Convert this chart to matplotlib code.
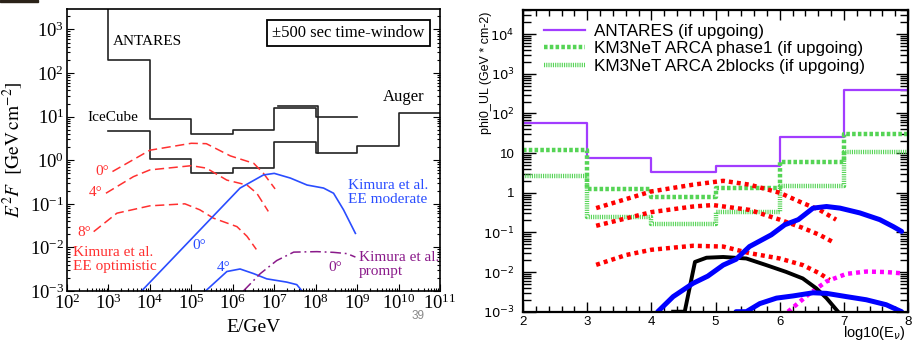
import matplotlib
matplotlib.use("Agg")
import matplotlib.pyplot as plt
import numpy as np
from matplotlib.ticker import LogLocator, NullFormatter, LogFormatterMathtext, MultipleLocator, FixedLocator
from matplotlib.patches import Rectangle

plt.rcParams['mathtext.fontset'] = 'stix'

# ---------------- left panel data (E/GeV, E^2 F) ----------------
ant_edges = [1e3, 1e4, 1e5, 1e6, 1e7, 1e8, 1e9]
ant_vals = [200, 9.0, 3.9, 5.0, 15.5, 10.0]
ant_top = 1e4

ice_edges = [1e3, 1e4, 1e5, 1e6, 1e7, 1e8, 1e9, 1e10, 1e11]
ice_vals = [4.7, 1.05, 0.5, 0.65, 2.6, 1.45, 2.1, 12.4]

aug_edges = [1.2e7, 1.12e8]
aug_vals = [17.5]
aug_drop = 1.45

opt0_e = [1.25e3, 1e4, 1e5, 2.3e5, 8.7e5, 3.2e6, 5.5e6, 1.05e7]
opt0_f = [0.55, 1.7, 2.45, 2.4, 1.26, 0.85, 0.5, 0.22]
opt4_e = [8.7e2, 4e3, 1e4, 1e5, 2.3e5, 7.2e5, 2.2e6, 3.8e6, 7.2e6]
opt4_f = [0.175, 0.42, 0.6, 0.75, 0.66, 0.35, 0.27, 0.175, 0.067]
opt8_e = [4.4e2, 1.6e3, 1e4, 7e4, 1.6e5, 3.4e5, 1.26e6, 2.2e6, 3.7e6]
opt8_f = [0.023, 0.061, 0.09, 0.1, 0.073, 0.047, 0.03, 0.018, 0.009]

mod0_e = [6.3e3, 1.5e6, 5.5e6, 1e7, 2.45e7, 6.2e7, 1.55e8, 2.7e8, 4.7e8, 9.1e8]
mod0_f = [1e-3, 0.23, 0.46, 0.5, 0.39, 0.27, 0.23, 0.175, 0.073, 0.021]
mod4_e = [2.2e5, 7.2e5, 1.5e6, 3.2e6, 6.6e6, 2e7, 3.5e7, 4.7e7]
mod4_f = [1e-3, 0.0028, 0.0032, 0.0025, 0.0019, 0.0016, 0.0014, 1e-3]

pr0_e = [1.8e6, 4.6e6, 1.15e7, 2.95e7, 1.07e8, 2.7e8, 5.75e8, 9.1e8]
pr0_f = [1e-3, 0.0025, 0.005, 0.0078, 0.008, 0.0077, 0.0072, 0.006]

# ---------------- right panel data (log10 E, phi0_UL) ----------------
bins = [2, 3, 4, 5, 6, 7, 8]
antares_ul = [56, 7.6, 3.3, 4.7, 26, 400]
arca_ph1_ul = [11.7, 1.24, 0.78, 1.3, 5.8, 31]
arca_2bl_ul = [2.7, 0.25, 0.16, 0.33, 1.5, 10.6]

red1_x = [3.14, 4.0, 4.65, 5.12, 5.53, 6.0, 6.36, 6.62, 6.88]
red1_y = [0.41, 1.08, 1.6, 2.0, 1.6, 1.0, 0.55, 0.37, 0.21]
red2_x = [3.14, 4.0, 4.65, 4.96, 5.53, 6.0, 6.36, 6.62, 6.86]
red2_y = [0.147, 0.325, 0.45, 0.49, 0.37, 0.21, 0.13, 0.087, 0.054]
red3_x = [3.14, 3.61, 4.0, 4.65, 5.12, 5.53, 6.0, 6.36, 6.62, 6.78]
red3_y = [0.0152, 0.027, 0.0365, 0.046, 0.044, 0.03, 0.022, 0.015, 0.0093, 0.0063]

mag_x = [6.13, 6.47, 6.73, 7.04, 7.35, 7.66, 7.9]
mag_y = [1e-3, 0.0029, 0.0058, 0.009, 0.0103, 0.01, 0.0093]

blk_x = [4.34, 4.52, 4.68, 4.86, 5.12, 5.48, 5.79, 6.1, 6.36, 6.57, 6.73, 6.91]
blk_y = [1e-3, 1e-3, 0.018, 0.023, 0.024, 0.022, 0.015, 0.0101, 0.0069, 0.0039, 0.0022, 1e-3]

blu1_x = [4.1, 4.34, 4.65, 4.88, 5.12, 5.32, 5.53, 5.87, 6.08, 6.29, 6.52, 6.73, 6.94, 7.25, 7.56, 7.77, 7.9]
blu1_y = [1e-3, 0.0024, 0.0052, 0.0079, 0.015, 0.021, 0.044, 0.087, 0.156, 0.21, 0.41, 0.45, 0.41, 0.31, 0.21, 0.14, 0.106]
blu2_x = [5.32, 5.48, 5.69, 5.95, 6.21, 6.52, 6.73, 7.04, 7.35, 7.66, 7.9]
blu2_y = [1e-3, 1e-3, 0.0016, 0.0022, 0.0025, 0.003, 0.0029, 0.0024, 0.002, 0.0015, 1e-3]

yticks_r = [1e-3, 1e-2, 1e-1, 1, 10, 1e2, 1e3, 1e4]
ytlabels_r = [r'$10^{-3}$', r'$10^{-2}$', r'$10^{-1}$', '1', '10', r'$10^{2}$', r'$10^{3}$', r'$10^{4}$']


def step_xy(edges, vals):
    xs = []
    ys = []
    for i, v in enumerate(vals):
        xs += [edges[i], edges[i + 1]]
        ys += [v, v]
    return xs, ys


fig = plt.figure(figsize=(9.13, 3.42), dpi=100)
serif = 'Liberation Serif'
sans = 'Liberation Sans'

# ================= left panel =================
ax = fig.add_axes([67 / 913, 1 - 291 / 342, 373 / 913, 282 / 342])
ax.set_xscale('log')
ax.set_yscale('log')
ax.set_xlim(1e2, 1e11)
ax.set_ylim(1e-3, 10 ** 3.47)

kw = dict(color='#222222', lw=1.2)
xs, ys = step_xy(ant_edges, ant_vals)
ax.plot([ant_edges[0]] + xs, [ant_top] + ys, **kw)
xs, ys = step_xy(ice_edges, ice_vals)
ax.plot(xs, ys, **kw)
xs, ys = step_xy(aug_edges, aug_vals)
ax.plot(xs + [aug_edges[-1]], ys + [aug_drop], **kw)

red = '#ff3030'
for e, f in [(opt0_e, opt0_f), (opt4_e, opt4_f), (opt8_e, opt8_f)]:
    ax.plot(e, f, color=red, lw=1.1, dashes=(6, 3))
blue = '#2a4dff'
ax.plot(mod0_e, mod0_f, color=blue, lw=1.2)
ax.plot(mod4_e, mod4_f, color=blue, lw=1.2)
ax.plot(pr0_e, pr0_f, color='#8a1a8a', lw=1.1, dashes=(7, 2.5, 1.2, 2.5))

ax.xaxis.set_major_locator(LogLocator(base=10, numticks=20))
ax.xaxis.set_minor_locator(LogLocator(base=10, subs=np.arange(2, 10), numticks=20))
ax.xaxis.set_major_formatter(LogFormatterMathtext())
ax.xaxis.set_minor_formatter(NullFormatter())
ax.yaxis.set_major_locator(LogLocator(base=10, numticks=20))
ax.yaxis.set_minor_locator(LogLocator(base=10, subs=np.arange(2, 10), numticks=20))
ax.yaxis.set_major_formatter(LogFormatterMathtext())
ax.yaxis.set_minor_formatter(NullFormatter())
ax.tick_params(which='both', direction='in', right=True, top=False, labelsize=13.5, width=0.8)
ax.tick_params(which='major', length=5, pad=2)
ax.tick_params(which='minor', length=2.5)
for lbl in ax.get_xticklabels() + ax.get_yticklabels():
    lbl.set_family(serif)
for s in ax.spines.values():
    s.set_linewidth(1.2)

ax.set_xlabel('E/GeV', fontsize=14, family=serif)
ax.xaxis.set_label_coords(0.5, -0.10)
ax.set_ylabel(r'$E^2F\ \ [\mathrm{GeV\,cm}^{-2}]$', fontsize=14)
ax.yaxis.set_label_coords(-0.112, 0.5)

tkw = dict(transform=ax.transAxes, family=serif, fontsize=11)
ax.text(0.123, 0.883, 'ANTARES', va='center', **tkw)
ax.text(0.054, 0.617, 'IceCube', va='center', **tkw)
ax.text(0.847, 0.688, 'Auger', va='center', fontsize=12, transform=ax.transAxes, family=serif)
ax.text(0.755, 0.915, '±500 sec time-window', ha='center', va='center', fontsize=12,
        transform=ax.transAxes, family=serif,
        bbox=dict(boxstyle='square,pad=0.3', fc='white', ec='black', lw=1.3))
ax.text(0.075, 0.422, '0°', color=red, va='center', **tkw)
ax.text(0.059, 0.348, '4°', color=red, va='center', **tkw)
ax.text(0.027, 0.209, '8°', color=red, va='center', **tkw)
ax.text(0.015, 0.112, 'Kimura et al.\nEE optimistic', color=red, va='center', linespacing=1.05, **tkw)
ax.text(0.335, 0.160, '0°', color=blue, va='center', **tkw)
ax.text(0.402, 0.082, '4°', color=blue, va='center', **tkw)
ax.text(0.753, 0.349, 'Kimura et al.\nEE moderate', color=blue, va='center', linespacing=1.05, **tkw)
ax.text(0.700, 0.082, '0°', color='#8a1a8a', va='center', **tkw)
ax.text(0.783, 0.094, 'Kimura et al.\nprompt', color='#8a1a8a', va='center', linespacing=1.05, **tkw)

fig.text(418 / 913, 1 - 316 / 342, '39', color='#888888', fontsize=8.5, family=sans, ha='center', va='center')
fig.patches.append(Rectangle((0, 1 - 2 / 342), 38 / 913, 2 / 342, transform=fig.transFigure,
                             color='#2a2218', zorder=5))

# ================= right panel =================
ax2 = fig.add_axes([523 / 913, 1 - 311.7 / 342, 385 / 913, 301.7 / 342])
ax2.set_yscale('log')
ax2.set_xlim(2, 8)
ax2.set_ylim(1e-3, 10 ** 4.61)

purple = '#a23cff'
green = '#55d455'
ax2.step(bins, antares_ul + [antares_ul[-1]], where='post', color=purple, lw=1.6,
         label='ANTARES (if upgoing)')
ax2.step(bins, arca_ph1_ul + [arca_ph1_ul[-1]], where='post', color=green, lw=3.2,
         dashes=(0.8, 0.5), label='KM3NeT ARCA phase1 (if upgoing)')
ax2.step(bins, arca_2bl_ul + [arca_2bl_ul[-1]], where='post', color=green, lw=3.2,
         dashes=(0.25, 0.25), label='KM3NeT ARCA 2blocks (if upgoing)')

for x, y in [(red1_x, red1_y), (red2_x, red2_y), (red3_x, red3_y)]:
    ax2.plot(x, y, color='#ff0000', lw=3.2, dashes=(0.9, 0.9))
ax2.plot(mag_x, mag_y, color='#ff00ff', lw=3.2, dashes=(0.9, 0.9))
ax2.plot(blk_x, blk_y, color='black', lw=2.8, solid_joinstyle='round')
ax2.plot(blu1_x, blu1_y, color='#0000ff', lw=3.6, solid_joinstyle='round', solid_capstyle='round')
ax2.plot(blu2_x, blu2_y, color='#0000ff', lw=3.6, solid_joinstyle='round', solid_capstyle='round')

ax2.xaxis.set_major_locator(MultipleLocator(1))
ax2.xaxis.set_minor_locator(MultipleLocator(0.2))
ax2.yaxis.set_major_locator(FixedLocator(yticks_r))
ax2.set_yticklabels(ytlabels_r)
ax2.yaxis.set_minor_locator(LogLocator(base=10, subs=np.arange(2, 10), numticks=20))
ax2.yaxis.set_minor_formatter(NullFormatter())
ax2.tick_params(which='both', direction='in', top=True, right=True, labelsize=9.5, width=1.0)
ax2.tick_params(axis='y', which='major', length=9, pad=6)
ax2.tick_params(axis='y', which='minor', length=6)
ax2.tick_params(axis='x', which='major', length=7, pad=3)
ax2.tick_params(axis='x', which='minor', length=4)
for lbl in ax2.get_xticklabels() + ax2.get_yticklabels():
    lbl.set_family(sans)
    lbl.set_math_fontfamily('dejavusans')
for s in ax2.spines.values():
    s.set_linewidth(1.6)

leg = ax2.legend(loc='upper left', bbox_to_anchor=(0.0545, 0.955), frameon=False, borderpad=0,
                 borderaxespad=0, handlelength=2.4, handletextpad=0.55, labelspacing=0.15,
                 prop={'family': sans, 'size': 12.3})

fig.text(486 / 913, 1 - 12 / 342, 'phi0_UL (GeV * cm-2)', rotation=90, ha='center', va='top',
         fontsize=9, family=sans)
fig.text(906 / 913, 1 - 333 / 342, r'log10(E$_{\nu}$)', ha='right', va='center', fontsize=10.5,
         family=sans, math_fontfamily='dejavusans')

fig.savefig('out.png', dpi=100)
